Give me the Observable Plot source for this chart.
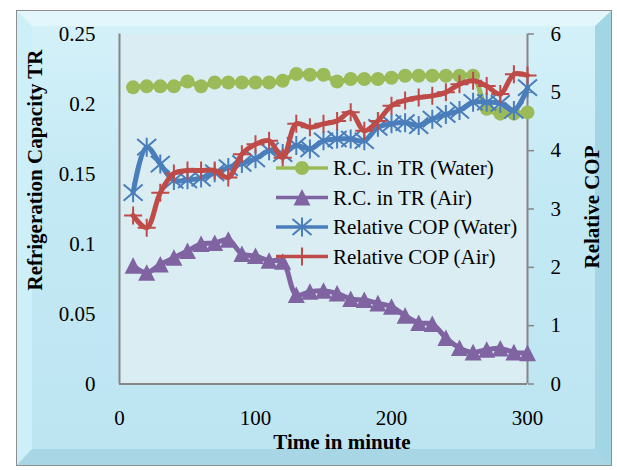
<!DOCTYPE html>
<html>
<head>
<meta charset="utf-8">
<script src="https://cdn.jsdelivr.net/npm/d3@7"></script>
<script src="https://cdn.jsdelivr.net/npm/@observablehq/plot@0.6"></script>
<style>
  html, body { margin: 0; padding: 0; background: #ffffff; }
  #wrap { position: relative; width: 617px; height: 470px; overflow: hidden; }
  #panel { position: absolute; left: 16px; top: 10px; width: 596px; height: 456px; box-sizing: border-box;
           border: 1px solid #8e8e8e; }
  #bevel { position: absolute; left: 0; top: 0; right: 0; bottom: 0; box-sizing: border-box;
           border-style: solid; border-width: 15px 16px 16px 15px;
           border-color: #e2f6fb #a3d6e5 #a8d6e4 #cdeff8;
           background: linear-gradient(#d4f1f9, #c3e9f4 40%, #bde5f1); }
  #chart { position: absolute; left: 0; top: 0; }
</style>
</head>
<body>
<div id="wrap">
  <div id="panel"><div id="bevel"></div></div>
  <div id="chart"></div>
</div>
<script>
// ---- data ----
const minutes = [10,20,30,40,50,60,70,80,90,100,110,120,130,140,150,160,170,180,190,200,210,220,230,240,250,260,270,280,290,300];
const rcWater = [0.2119,0.2126,0.2126,0.2126,0.2161,0.2126,0.2154,0.2154,0.2154,0.2154,0.2154,0.2166,0.2214,0.2209,0.2209,0.2161,0.2179,0.2179,0.2179,0.2188,0.2202,0.2202,0.2202,0.2202,0.2202,0.2202,0.1966,0.1931,0.1931,0.1940];
const rcAir   = [0.0845,0.0795,0.0854,0.0902,0.0950,0.1000,0.1007,0.1031,0.0929,0.0914,0.0881,0.0874,0.0636,0.0659,0.0666,0.0647,0.0607,0.0600,0.0576,0.0552,0.0488,0.0436,0.0429,0.0329,0.0257,0.0226,0.0245,0.0254,0.0226,0.0221];
const copWater = [3.28,4.06,3.77,3.49,3.50,3.53,3.62,3.71,3.78,3.86,4.00,3.95,4.09,4.03,4.17,4.20,4.20,4.17,4.40,4.46,4.48,4.43,4.54,4.62,4.69,4.83,4.83,4.81,4.69,5.08];
const copAir   = [2.89,2.68,3.28,3.61,3.66,3.66,3.66,3.54,3.94,4.11,4.17,3.88,4.46,4.40,4.46,4.51,4.66,4.34,4.51,4.77,4.86,4.91,4.94,5.00,5.14,5.20,5.11,4.97,5.31,5.29];
const seriesNames = ["R.C. in TR (Water)", "R.C. in TR (Air)", "Relative COP (Water)", "Relative COP (Air)"];
const ticksTR = [0, 0.05, 0.1, 0.15, 0.2, 0.25];
const ticksCOP = [0, 1, 2, 3, 4, 5, 6];
const ticksTime = [0, 100, 200, 300];
const titleX = "Time in minute";
const titleLeft = "Refrigeration Capacity TR";
const titleRight = "Relative COP";

// ---- styles ----
const colors = ["#9bbb59", "#8064a2", "#4a7ebb", "#be4b48"];
const font = "'Liberation Serif', 'Times New Roman', serif";
const axisGray = "#868686";
const k = 0.25 / 6; // right-axis units -> left-axis units

// custom Excel-like marker symbols
const symTriangle = { draw(ctx, size) { const r = Math.sqrt(size / Math.PI);
  ctx.moveTo(0, -r); ctx.lineTo(r, r * 0.95); ctx.lineTo(-r, r * 0.95); ctx.closePath(); } };
const symStar = { draw(ctx, size) { const r = Math.sqrt(size / Math.PI);
  ctx.moveTo(-r, -r * 0.85); ctx.lineTo(r, r * 0.85);
  ctx.moveTo(-r, r * 0.85); ctx.lineTo(r, -r * 0.85);
  ctx.moveTo(0, -r); ctx.lineTo(0, r); } };
const symPlus = { draw(ctx, size) { const r = Math.sqrt(size / Math.PI);
  ctx.moveTo(-r, 0); ctx.lineTo(r, 0); ctx.moveTo(0, -r); ctx.lineTo(0, r); } };

const rows = minutes.map((t, i) => ({t, rcW: rcWater[i], rcA: rcAir[i], copW: copWater[i], copA: copAir[i]}));

const lineOpts = {curve: "catmull-rom", strokeWidth: 5, strokeLinejoin: "round", strokeLinecap: "round"};

const chart = Plot.plot({
  width: 617, height: 470,
  marginLeft: 119, marginRight: 90, marginTop: 33.5, marginBottom: 86.5,
  style: {fontFamily: font, fontSize: "21px", background: "transparent", color: "#000", overflow: "visible"},
  x: {domain: [0, 300]},
  y: {domain: [0, 0.25]},
  marks: [
    Plot.frame({fill: "#d9edf3", stroke: null}),
    Plot.axisY(ticksTR, {anchor: "left", tickSize: 0, tickPadding: 24, label: null,
      tickFormat: d => String(+d.toFixed(2))}),
    Plot.axisY(ticksCOP.map(v => v * k), {anchor: "right", tickSize: 6, tickPadding: 17, label: null,
      stroke: axisGray, strokeWidth: 1.5, tickFormat: d => String(Math.round(d / k))}),
    Plot.axisX(ticksTime, {anchor: "bottom", tickSize: 0, tickPadding: 26, label: null}),
    Plot.ruleX([0, 300], {stroke: axisGray, strokeWidth: 2}),
    Plot.ruleY([0], {stroke: axisGray, strokeWidth: 2}),
    // R.C. water
    Plot.line(rows, {x: "t", y: "rcW", stroke: colors[0], ...lineOpts}),
    Plot.dot(rows, {x: "t", y: "rcW", r: 7, fill: colors[0], symbol: "circle"}),
    // R.C. air
    Plot.line(rows, {x: "t", y: "rcA", stroke: colors[1], ...lineOpts}),
    Plot.dot(rows, {x: "t", y: "rcA", r: 8.5, fill: colors[1], symbol: symTriangle}),
    // COP water
    Plot.line(rows, {x: "t", y: d => d.copW * k, stroke: colors[2], ...lineOpts}),
    Plot.dot(rows, {x: "t", y: d => d.copW * k, r: 9.5, stroke: colors[2], strokeWidth: 2, symbol: symStar}),
    // COP air
    Plot.line(rows, {x: "t", y: d => d.copA * k, stroke: colors[3], ...lineOpts}),
    Plot.dot(rows, {x: "t", y: d => d.copA * k, r: 9, stroke: colors[3], strokeWidth: 2, symbol: symPlus})
  ]
});
document.getElementById("chart").appendChild(chart);

// ---- titles ----
const svg = d3.select(chart);
const tg = svg.append("g").style("font-family", font).style("font-size", "21px")
  .style("font-weight", "bold").attr("fill", "#000");
tg.append("text").attr("x", 342).attr("y", 449).attr("text-anchor", "middle").text(titleX);
tg.append("text").attr("transform", "translate(42,170) rotate(-90)").attr("text-anchor", "middle").text(titleLeft);
tg.append("text").attr("transform", "translate(599,207) rotate(-90)").attr("text-anchor", "middle").text(titleRight);

// ---- legend (drawn on top of the data, no box) ----
const lg = svg.append("g").style("font-family", font).style("font-size", "21px").attr("text-anchor", "start");
const legendSyms = [d3.symbolCircle, symTriangle, symStar, symPlus];
const legendR = [7, 8.5, 9.5, 9];
seriesNames.forEach((name, i) => {
  const y = 168 + i * 29.5;
  const g = lg.append("g").attr("transform", `translate(0,${y})`);
  g.append("line").attr("x1", 276).attr("x2", 328).attr("y1", 0).attr("y2", 0)
    .attr("stroke", colors[i]).attr("stroke-width", 3.5);
  const path = d3.symbol(legendSyms[i], Math.PI * legendR[i] * legendR[i])();
  const m = g.append("path").attr("transform", "translate(302,0)").attr("d", path);
  if (i < 2) m.attr("fill", colors[i]); else m.attr("fill", "none").attr("stroke", colors[i]).attr("stroke-width", 2);
  g.append("text").attr("x", 333).attr("y", 0).attr("dy", "0.35em").attr("text-anchor", "start").attr("fill", "#000").text(name);
});
</script>
</body>
</html>
